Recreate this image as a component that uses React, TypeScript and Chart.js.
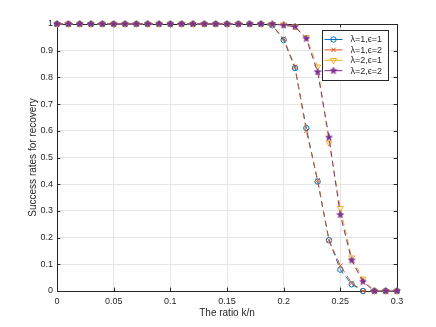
import React, { useEffect, useRef } from "react";
import { Chart, registerables } from "chart.js";

Chart.register(...registerables);

const ratios = [0, 0.01, 0.02, 0.03, 0.04, 0.05, 0.06, 0.07, 0.08, 0.09, 0.1, 0.11, 0.12, 0.13, 0.14, 0.15, 0.16, 0.17, 0.18, 0.19, 0.2, 0.21, 0.22, 0.23, 0.24, 0.25, 0.26, 0.27, 0.28, 0.29, 0.3];

const seriesL1E1 = [1, 1, 1, 1, 1, 1, 1, 1, 1, 1, 1, 1, 1, 1, 1, 1, 1, 1, 1, 0.995, 0.94, 0.835, 0.61, 0.41, 0.19, 0.08, 0.025, 0, 0, 0, 0];
const seriesL1E2 = [1, 1, 1, 1, 1, 1, 1, 1, 1, 1, 1, 1, 1, 1, 1, 1, 1, 1, 1, 0.995, 0.945, 0.84, 0.6, 0.415, 0.19, 0.095, 0.03, 0, 0, 0, 0];
const seriesL2E1 = [1, 1, 1, 1, 1, 1, 1, 1, 1, 1, 1, 1, 1, 1, 1, 1, 1, 1, 1, 1, 0.998, 0.99, 0.95, 0.84, 0.555, 0.31, 0.125, 0.045, 0, 0, 0];
const seriesL2E2 = [1, 1, 1, 1, 1, 1, 1, 1, 1, 1, 1, 1, 1, 1, 1, 1, 1, 1, 1, 1, 0.995, 0.99, 0.945, 0.82, 0.575, 0.285, 0.115, 0.035, 0, 0, 0];

const seriesLabels = ["λ=1,ϵ=1", "λ=1,ϵ=2", "λ=2,ϵ=1", "λ=2,ϵ=2"];
const xTitle = "The ratio k/n";
const yTitle = "Success rates for recovery";

const FONT = "'Liberation Sans', Arial, Helvetica, sans-serif";
const AXIS_COLOR = "#262626";

function makeStar(color: string, size: number) {
  const c = document.createElement("canvas");
  c.width = size;
  c.height = size;
  const ctx = c.getContext("2d")!;
  const cx = size / 2, cy = size / 2;
  const R = size / 2 - 0.5, r = R * 0.42;
  ctx.beginPath();
  for (let i = 0; i < 10; i++) {
    const ang = -Math.PI / 2 + (i * Math.PI) / 5;
    const rad = i % 2 === 0 ? R : r;
    const px = cx + rad * Math.cos(ang);
    const py = cy + rad * Math.sin(ang);
    if (i === 0) ctx.moveTo(px, py); else ctx.lineTo(px, py);
  }
  ctx.closePath();
  ctx.fillStyle = color;
  ctx.fill();
  ctx.strokeStyle = color;
  ctx.lineWidth = 0.8;
  ctx.stroke();
  return c;
}

const boxPlugin = {
  id: "matlabBox",
  beforeDatasetsDraw(chart: any) {
    const { ctx, chartArea } = chart;
    const { left, right, top, bottom } = chartArea;
    ctx.save();
    ctx.strokeStyle = AXIS_COLOR;
    ctx.lineWidth = 1;
    ctx.strokeRect(Math.round(left) + 0.5, Math.round(top) + 0.5, Math.round(right - left), Math.round(bottom - top));
    const tl = 3.4;
    const xs = chart.scales.x;
    const ys = chart.scales.y;
    ctx.beginPath();
    xs.ticks.forEach((t: any) => {
      const px = Math.round(xs.getPixelForValue(t.value)) + 0.5;
      ctx.moveTo(px, bottom);
      ctx.lineTo(px, bottom - tl);
      ctx.moveTo(px, top);
      ctx.lineTo(px, top + tl);
    });
    ys.ticks.forEach((t: any) => {
      const py = Math.round(ys.getPixelForValue(t.value)) + 0.5;
      ctx.moveTo(left, py);
      ctx.lineTo(left + tl, py);
      ctx.moveTo(right, py);
      ctx.lineTo(right - tl, py);
    });
    ctx.stroke();
    ctx.restore();
  },
};

function drawMarker(ctx: CanvasRenderingContext2D, ds: any, x: number, y: number) {
  const style = ds.pointStyle;
  ctx.save();
  ctx.strokeStyle = ds.borderColor;
  ctx.lineWidth = 1;
  ctx.setLineDash([]);
  if (style === "circle") {
    ctx.beginPath();
    ctx.arc(x, y, ds.pointRadius, 0, Math.PI * 2);
    ctx.stroke();
  } else if (style === "crossRot") {
    const r = ds.pointRadius * 0.75;
    ctx.beginPath();
    ctx.moveTo(x - r, y - r);
    ctx.lineTo(x + r, y + r);
    ctx.moveTo(x - r, y + r);
    ctx.lineTo(x + r, y - r);
    ctx.stroke();
  } else if (style === "triangle") {
    const r = ds.pointRadius;
    ctx.beginPath();
    ctx.moveTo(x - r * 0.87, y - r * 0.5);
    ctx.lineTo(x + r * 0.87, y - r * 0.5);
    ctx.lineTo(x, y + r);
    ctx.closePath();
    ctx.stroke();
  } else if (style instanceof HTMLCanvasElement) {
    ctx.drawImage(style, x - style.width / 2, y - style.height / 2);
  }
  ctx.restore();
}

const legendPlugin = {
  id: "boxLegend",
  afterDraw(chart: any) {
    const { ctx, chartArea } = chart;
    const w = 66, h = 50;
    const x0 = Math.round(chartArea.right - 75) + 0.5;
    const y0 = Math.round(chartArea.top + 6) + 0.5;
    ctx.save();
    ctx.fillStyle = "#ffffff";
    ctx.fillRect(x0, y0, w, h);
    ctx.strokeStyle = AXIS_COLOR;
    ctx.lineWidth = 1;
    ctx.strokeRect(x0, y0, w, h);
    ctx.font = `9px ${FONT}`;
    ctx.textBaseline = "middle";
    ctx.fillStyle = AXIS_COLOR;
    const list = [...chart.data.datasets].sort((a: any, b: any) => b.order - a.order);
    list.forEach((ds: any, i: number) => {
      const yy = y0 + 9 + i * 10.4;
      ctx.strokeStyle = ds.borderColor;
      ctx.lineWidth = 1;
      ctx.beginPath();
      ctx.moveTo(x0 + 2, yy);
      ctx.lineTo(x0 + 20, yy);
      ctx.stroke();
      drawMarker(ctx, ds, x0 + 11, yy);
      ctx.fillStyle = AXIS_COLOR;
      ctx.fillText(ds.label, x0 + 28, yy + 0.5);
    });
    ctx.restore();
  },
};

export default function App() {
  const ref = useRef<HTMLCanvasElement>(null);
  useEffect(() => {
    if (!ref.current) return;
    Chart.defaults.font.family = FONT;
    const star = makeStar("#7E2F8E", 8);
    const mk = (vals: number[]) => vals.map((v, i) => ({ x: ratios[i], y: v }));
    const common = {
      borderWidth: 1,
      borderDash: [6, 4],
      fill: false,
      tension: 0,
      clip: false as const,
      pointBorderWidth: 1,
      pointHoverRadius: 3,
    };
    const chart = new Chart(ref.current, {
      type: "line",
      data: {
        datasets: [
          {
            ...common,
            label: seriesLabels[0],
            data: mk(seriesL1E1),
            borderColor: "#0072BD",
            pointBorderColor: "#0072BD",
            pointBackgroundColor: "rgba(0,0,0,0)",
            pointStyle: "circle",
            pointRadius: 2.7,
            order: 4,
          },
          {
            ...common,
            label: seriesLabels[1],
            data: mk(seriesL1E2),
            borderColor: "#D95319",
            pointBorderColor: "#D95319",
            pointBackgroundColor: "rgba(0,0,0,0)",
            pointStyle: "crossRot",
            pointRadius: 3,
            order: 3,
          },
          {
            ...common,
            label: seriesLabels[2],
            data: mk(seriesL2E1),
            borderColor: "#EDB120",
            pointBorderColor: "#EDB120",
            pointBackgroundColor: "rgba(0,0,0,0)",
            pointStyle: "triangle",
            pointRotation: 180,
            pointRadius: 3.5,
            order: 2,
          },
          {
            ...common,
            label: seriesLabels[3],
            data: mk(seriesL2E2),
            borderColor: "#7E2F8E",
            pointBorderColor: "#7E2F8E",
            pointBackgroundColor: "#7E2F8E",
            pointStyle: star as any,
            pointRadius: 4,
            order: 1,
          },
        ],
      },
      options: {
        animation: false,
        responsive: false,
        devicePixelRatio: 1,
        layout: { padding: { top: 24, right: 39, left: 0, bottom: 0 } },
        plugins: {
          legend: { display: false },
          tooltip: { enabled: false },
        },
        scales: {
          x: {
            type: "linear",
            min: 0,
            max: 0.3,
            grid: { color: "#e6e6e6", drawTicks: false },
            border: { display: false },
            ticks: {
              stepSize: 0.05,
              padding: 5,
              color: AXIS_COLOR,
              font: { size: 9, family: FONT },
              maxRotation: 0,
              callback: (v: any) => String(Number(Number(v).toFixed(2))),
            },
            title: {
              display: true,
              text: xTitle,
              color: AXIS_COLOR,
              font: { size: 10, family: FONT },
              padding: { top: 0, bottom: 8 },
            },
            afterFit: (s: any) => {
              s.height = 36;
            },
          },
          y: {
            type: "linear",
            min: 0,
            max: 1,
            grid: { color: "#e6e6e6", drawTicks: false },
            border: { display: false },
            ticks: {
              stepSize: 0.1,
              padding: 4,
              color: AXIS_COLOR,
              font: { size: 9, family: FONT },
              callback: (v: any) => String(Number(Number(v).toFixed(1))),
            },
            title: {
              display: true,
              text: yTitle,
              color: AXIS_COLOR,
              font: { size: 10, family: FONT },
              padding: { top: 27, bottom: 0 },
            },
            afterFit: (s: any) => {
              s.width = 57;
            },
          },
        },
      },
      plugins: [boxPlugin, legendPlugin],
    });
    return () => chart.destroy();
  }, []);
  return (
    <div style={{ position: "fixed", left: 0, top: 0, width: 436, height: 327, background: "#fff" }}>
      <canvas ref={ref} width={436} height={327} style={{ width: 436, height: 327, display: "block" }} />
    </div>
  );
}
